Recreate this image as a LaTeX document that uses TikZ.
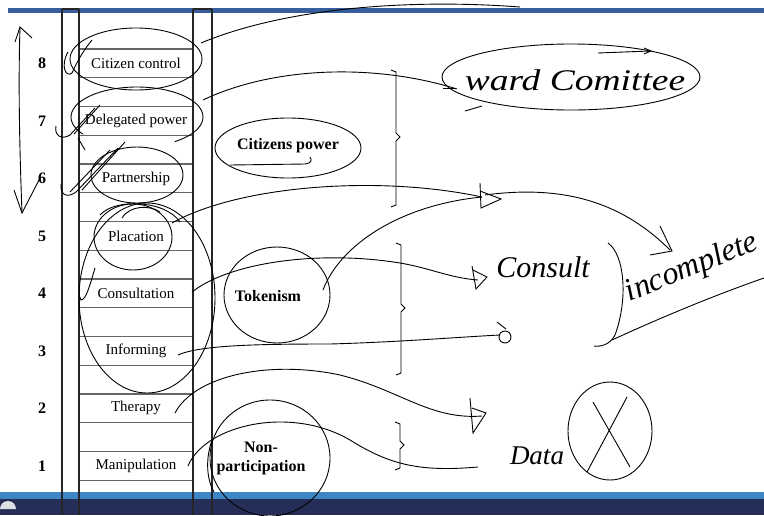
\documentclass[tikz,border=0pt]{standalone}
\usepackage{fontspec}
\setmainfont{Liberation Serif}
\usetikzlibrary{calc}
\definecolor{barblue}{RGB}{55,95,160}
\definecolor{barlight}{RGB}{60,135,195}
\definecolor{navy}{RGB}{36,46,88}
\tikzset{
 post/.style={line width=1.3pt, black!85},
 rung/.style={line width=1.4pt, black!60},
 ink/.style={line width=0.9pt, black},
 lab/.style={font=\fontsize{15}{17}\selectfont, inner sep=1pt},
 num/.style={font=\bfseries\fontsize{16}{18}\selectfont, inner sep=1pt},
 blab/.style={font=\bfseries\fontsize{16}{19}\selectfont, align=center, inner sep=1pt},
 hand/.style={font=\itshape\fontsize{30}{32}\selectfont, inner sep=0pt},
}
\begin{document}
\begin{tikzpicture}[x=1pt,y=-1pt]
\useasboundingbox (0,0) rectangle (764,515);
\fill[white] (0,0) rectangle (764,515);
% bars
\fill[barblue] (8,8) rectangle (764,13);
\fill[barlight] (0,492) rectangle (764,499);
\fill[navy] (0,499) rectangle (764,515);
\fill[white!85!navy] (0,509) arc[start angle=180, end angle=0, radius=8pt];
% rungs
\foreach \k in {0,...,15} \draw[rung] (79,{49+28.75*\k}) -- (193,{49+28.75*\k});
% posts
\draw[post] (62,9) -- (62,515) (79,9) -- (79,515) (62,9) -- (79,9);
\draw[post] (193,9) -- (193,515) (212,9) -- (212,515) (193,9) -- (212,9);
% rung labels and numbers
\foreach \n/\t [count=\i from 0] in {8/Citizen control,7/Delegated power,6/Partnership,5/Placation,4/Consultation,3/Informing,2/Therapy,1/Manipulation}{
  \node[lab] (r\n) at (136,{63.4+57.5*\i}) {\t};
  \node[num] (n\n) at (42,{63.4+57.5*\i}) {\n};
}
% group labels
\node[blab] (cp) at (288,146) {Citizens power};
\node[blab] (tk) at (268,296) {Tokenism};
\node[blab] (np) at (261,458) {Non-\\participation};
% handwritten texts
\node[hand, xscale=1.25] (ward) at (575,80) {ward Comittee};
\node[hand] (cons) at (543,267) {Consult};
\node[hand, rotate=22, font=\itshape\fontsize{32}{34}\selectfont] (inc) at (692,268) {incomplete};
\node[hand, font=\itshape\fontsize{27}{30}\selectfont] (data) at (537,456) {Data};
% ellipses on the ladder
\draw[ink] (136,59) ellipse [x radius=66pt, y radius=31pt];
\draw[ink] ([shift={(-55:66pt and 30pt)}]137,117) arc[start angle=-55, end angle=215, x radius=66pt, y radius=30pt];
\draw[ink] (137,175) ellipse [x radius=46pt, y radius=28pt];
\draw[ink] (133,237) ellipse [x radius=39pt, y radius=33pt];
\draw[ink] (100,215) .. controls (115,198) and (165,200) .. (180,222);
\draw[ink] (122,218) .. controls (130,205) and (150,205) .. (160,212);
\draw[ink] (147,298) ellipse [x radius=68pt, y radius=95pt];
% ellipses on the right
\draw[ink] (288,148) ellipse [x radius=73pt, y radius=30pt];
\draw[ink] (230,165) -- (305,164) .. controls (312,163) and (312,160) .. (310,157);
\draw[ink] (277,295) ellipse [x radius=53pt, y radius=48pt];
\draw[ink] (270,458) ellipse [x radius=60pt, y radius=58pt];
\draw[ink] (212,440) .. controls (205,460) and (207,480) .. (214,492);
\draw[ink] (571,77) ellipse [x radius=129pt, y radius=33pt];
\draw[ink] (465,111) -- (482,106);
\draw[ink] (598,53) -- (650,51) (644,48) -- (651,51) -- (644,54);
\draw[ink] (610,431) ellipse [x radius=42pt, y radius=49pt];
\draw[ink] (593,402) -- (630,467) (627,397) -- (587,472);
% ticks on the left rail
\draw[ink] (92,40) .. controls (82,52) and (76,64) .. (72,73) .. controls (66,78) and (60,66) .. (68,52);
\draw[ink] (95,108) -- (70,135) .. controls (62,140) and (54,136) .. (56,126) (100,105) -- (74,134) (78,138) -- (85,150);
\draw[ink] (118,148) -- (76,192) .. controls (68,198) and (60,196) .. (61,184) (110,150) -- (70,192) (125,142) -- (82,190);
\draw[ink] (95,268) .. controls (90,285) and (86,300) .. (81,300) -- (79,295);
% left double arrow
\draw[ink] (20,27) .. controls (18,90) and (20,160) .. (22,213);
\draw[ink] (15,42) -- (20,27) -- (32,38);
\draw[ink] (14,190) -- (22,213) -- (40,178);
% braces
\draw[ink] (391,70) -- (396,72) -- (396,133) -- (400,137) -- (396,141) -- (396,205) -- (391,207);
\draw[ink] (396,243) -- (401,245) -- (401,304) -- (405,308) -- (401,312) -- (401,373) -- (396,375);
\draw[ink] (395,422) -- (400,424) -- (400,441) -- (404,445) -- (400,449) -- (400,468) -- (395,470);
% connectors
\draw[ink] (201,43) .. controls (280,10) and (400,-2) .. (520,7);
\draw[ink] (203,100) .. controls (270,68) and (370,62) .. (457,89);
\draw[ink] (443,88) -- (456,88);
\draw[ink] (172,223) .. controls (240,185) and (380,175) .. (482,197);
\draw[ink] (323,290) .. controls (340,245) and (400,205) .. (482,197);
\draw[ink] (480,183) -- (481,208) -- (501,199) -- (480,191);
\draw[ink] (485,195) .. controls (560,185) and (620,200) .. (670,250);
\draw[ink] (660,226) -- (672,251) -- (650,255);
\draw[ink] (192,292) .. controls (230,262) and (320,250) .. (400,263) .. controls (430,268) and (450,278) .. (478,280);
\draw[ink] (472,266) -- (476,289) -- (487,277) -- (473,270);
\draw[ink] (178,355) .. controls (200,345) and (260,344) .. (330,344) .. controls (400,342) and (460,337) .. (500,335);
\draw[ink] (505,337) circle [radius=6pt];
\draw[ink] (497,322) -- (506,329);
\draw[ink] (175,413) .. controls (195,375) and (270,360) .. (340,375) .. controls (400,390) and (430,420) .. (482,416);
\draw[ink] (470,398) -- (473,433) -- (486,413) -- (472,408);
\draw[ink] (188,466) .. controls (205,425) and (290,405) .. (350,440) .. controls (390,465) and (420,472) .. (478,467);
\draw[ink] (608,243) .. controls (625,255) and (628,300) .. (615,335) .. controls (610,345) and (600,347) .. (594,346);
\draw[ink] (612,340) .. controls (660,318) and (710,297) .. (764,278);
\end{tikzpicture}
\end{document}
